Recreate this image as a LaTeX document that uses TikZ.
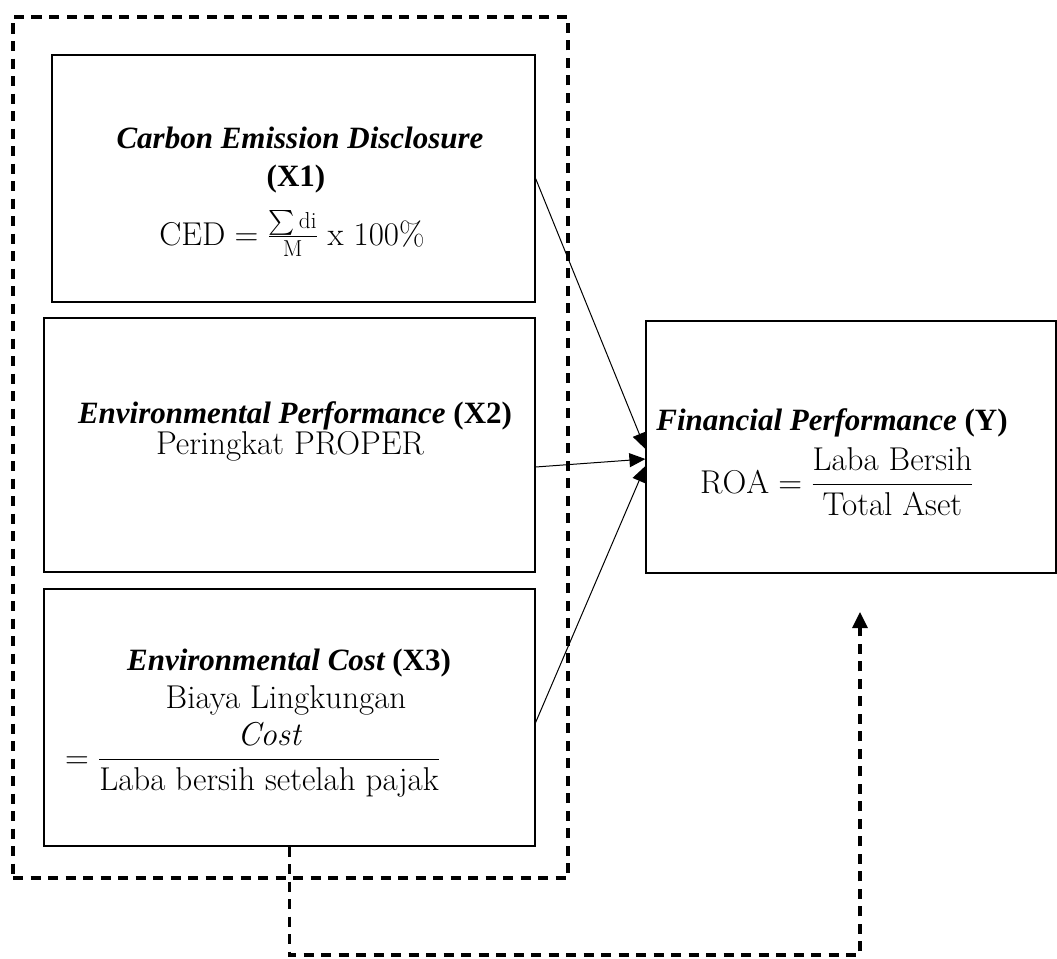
\RequirePackage{fix-cm}
\documentclass[tikz,border=0pt]{standalone}
\usepackage{amsmath}
\usepackage{fontspec}
\newfontfamily\tnr{Liberation Serif}
\usetikzlibrary{arrows.meta,calc}
\begin{document}
\begin{tikzpicture}[x=1pt,y=-1pt,
  box/.style={draw, line width=1.2pt, inner sep=0pt},
  ttl/.style={anchor=base, inner sep=0pt, font=\tnr\fontsize{31}{37}\selectfont},
  frm/.style={anchor=base, inner sep=0pt, font=\fontsize{33}{39}\selectfont},
  dsh/.style={line width=3.2pt, dash pattern=on 10pt off 7.5pt},
  arr/.style={line width=1pt, -{Triangle[length=16pt,width=14pt]}},
  fbarr/.style={dsh, -{Triangle[length=16pt,width=15pt]}}]
\useasboundingbox (0,0) rectangle (1057,958);

% outer dashed group
\node[draw, dsh, minimum width=555pt, minimum height=861pt, inner sep=0pt] (grp) at (290.5,447.5) {};

% boxes
\node[box, minimum width=483pt, minimum height=247pt] (b1) at (293.5,178.5) {};
\node[box, minimum width=491pt, minimum height=254pt] (b2) at (289.5,445) {};
\node[box, minimum width=491pt, minimum height=257pt] (b3) at (289.5,717.5) {};
\node[box, minimum width=410pt, minimum height=252pt] (yb) at (851,447) {};

% box 1 text
\node[ttl] (t1a) at (300,148) {\bfseries\itshape Carbon Emission Disclosure};
\node[ttl] (t1b) at (296,186) {\bfseries (X1)};
\node[frm] (f1) at (292,245) {$\mathrm{CED}=\tfrac{\sum\mathrm{di}}{\mathrm{M}}\ \mathrm{x}\ 100\%$};

% box 2 text
\node[ttl] (t2a) at (295,423) {\bfseries\itshape Environmental Performance \upshape(X2)};
\node[frm] (f2) at (290,454) {Peringkat PROPER};

% box 3 text
\node[ttl] (t3a) at (289,670) {\bfseries\itshape Environmental Cost \upshape(X3)};
\node[frm] (f3a) at (286,708) {Biaya Lingkungan};
\node[frm, anchor=base west] (f3b) at (65,768) {$=\dfrac{\mathit{Cost}}{\text{Laba bersih setelah pajak}}$};

% Y box text
\node[ttl] (ty) at (832,430) {\bfseries\itshape Financial Performance \upshape(Y)};
\node[frm, anchor=base west] (fy) at (700,493) {$\mathrm{ROA}=\dfrac{\text{Laba Bersih}}{\text{Total Aset}}$};

% arrows
\draw[arr] (b1.east) -- ([yshift=-2pt]yb.west);
\draw[arr] ([yshift=-22pt]b2.east) -- ([yshift=-12pt]yb.west);
\draw[arr] ([yshift=-5pt]b3.east) -- ([yshift=-19pt]yb.west);

% feedback dashed connector
\coordinate (fbase) at (0,955);
\coordinate (fbend) at (860,612);
\draw[fbarr] (b3.south) -- (b3.south |- fbase) -- (fbend |- fbase) -- (fbend);
\end{tikzpicture}
\end{document}
